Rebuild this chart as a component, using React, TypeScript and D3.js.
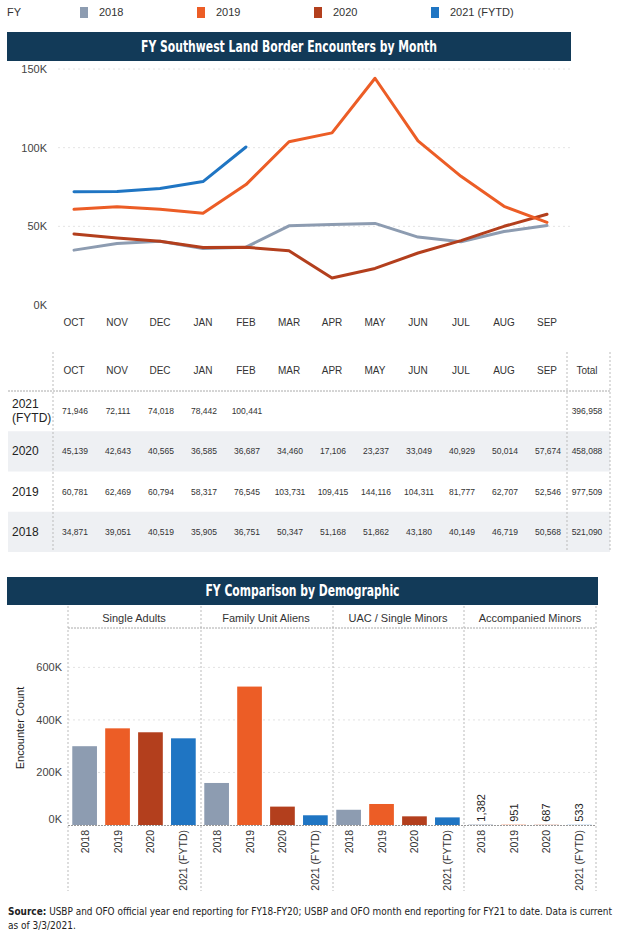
import React, { useEffect, useRef } from 'react';
import * as d3 from 'd3';

const months = ['OCT', 'NOV', 'DEC', 'JAN', 'FEB', 'MAR', 'APR', 'MAY', 'JUN', 'JUL', 'AUG', 'SEP'];
const fiscalYears = ['2018', '2019', '2020', '2021 (FYTD)'];
const legendLabels = ['2018', '2019', '2020', '2021 (FYTD)'];

const enc2018 = [34871, 39051, 40519, 35905, 36751, 50347, 51168, 51862, 43180, 40149, 46719, 50568];
const enc2019 = [60781, 62469, 60794, 58317, 76545, 103731, 109415, 144116, 104311, 81777, 62707, 52546];
const enc2020 = [45139, 42643, 40565, 36585, 36687, 34460, 17106, 23237, 33049, 40929, 50014, 57674];
const enc2021 = [71946, 72111, 74018, 78442, 100441];
const lineTicks = [0, 50000, 100000, 150000];

const demographics = ['Single Adults', 'Family Unit Aliens', 'UAC / Single Minors', 'Accompanied Minors'];
const singleAdults = [300000, 368000, 353000, 330000];
const familyUnits = [160000, 527000, 70000, 37000];
const uacMinors = [58000, 80000, 33000, 29000];
const accompaniedMinors = [1382, 951, 687, 533];
const barTicks = [0, 200000, 400000, 600000];

const colors = ['#8d9cb1', '#ec5d26', '#b33f1d', '#1f75c3'];
const navy = '#123a58';
const FONT = "'Liberation Sans', Arial, sans-serif";
const NARROW = "'Liberation Sans Narrow', 'DejaVu Sans Condensed', 'Liberation Sans', sans-serif";

const App: React.FC = () => {
  const svgRef = useRef<SVGSVGElement>(null);

  useEffect(() => {
    document.body.style.margin = '0';
    if (!svgRef.current) return;
    const svg = d3.select(svgRef.current);
    svg.selectAll('*').remove();
    svg.attr('font-family', FONT);

    // Legend
    svg.append('text').attr('x', 7).attr('y', 16).attr('font-size', 11).attr('fill', '#333').text('FY');
    const legendX = d3.scalePoint<string>().domain(legendLabels).range([80, 431]);
    const lg = svg.selectAll('.legend').data(legendLabels).enter().append('g')
      .attr('transform', d => `translate(${legendX(d)},0)`);
    lg.append('rect').attr('y', 7).attr('width', 8).attr('height', 11).attr('fill', (d, i) => colors[i]);
    lg.append('text').attr('x', 19).attr('y', 16).attr('font-size', 11).attr('fill', '#333').text(d => d);

    // Title bars
    const titleBar = (x0: number, x1: number, y0: number, h: number, label: string, w: number) => {
      svg.append('rect').attr('x', x0).attr('y', y0).attr('width', x1 - x0).attr('height', h).attr('fill', navy);
      svg.append('text').attr('x', (x0 + x1) / 2).attr('y', y0 + h / 2 + 5)
        .attr('text-anchor', 'middle').attr('fill', '#fff').attr('font-size', 15)
        .attr('font-weight', 'bold').attr('font-family', NARROW)
        .attr('textLength', w).attr('lengthAdjust', 'spacingAndGlyphs').text(label);
    };
    titleBar(7, 571, 32, 29, 'FY Southwest Land Border Encounters by Month', 296);

    // Line chart
    const x = d3.scalePoint<string>().domain(months).range([74, 547]);
    const y = d3.scaleLinear().domain([0, 150000]).range([305, 69]);

    svg.append('g').selectAll('line').data(lineTicks.slice(1)).enter().append('line')
      .attr('x1', 58).attr('x2', 570).attr('y1', d => y(d)).attr('y2', d => y(d))
      .attr('stroke', '#e4e4e4').attr('stroke-dasharray', '2,3');

    svg.append('g').selectAll('text').data(lineTicks).enter().append('text')
      .attr('x', 47).attr('y', d => y(d) + 4).attr('text-anchor', 'end')
      .attr('font-size', 11).attr('fill', '#444').text(d => `${d / 1000}K`);

    svg.append('g').selectAll('text').data(months).enter().append('text')
      .attr('x', d => x(d)!).attr('y', 326).attr('text-anchor', 'middle')
      .attr('font-size', 10).attr('fill', '#333').text(d => d);

    const line = d3.line<number>().x((d, i) => x(months[i])!).y(d => y(d));
    const series = [enc2018, enc2020, enc2019, enc2021];
    const seriesColor = [colors[0], colors[2], colors[1], colors[3]];
    svg.append('g').selectAll('path').data(series).enter().append('path')
      .attr('d', d => line(d))
      .attr('fill', 'none').attr('stroke', (d, i) => seriesColor[i])
      .attr('stroke-width', 3).attr('stroke-linejoin', 'round').attr('stroke-linecap', 'round');

    // Table
    const rowNames = ['2021', '2020', '2019', '2018'];
    const rowData = [enc2021, enc2020, enc2019, enc2018];
    const rowY = d3.scaleBand<string>().domain(rowNames).range([391, 552]);
    const fmt = d3.format(',');

    const table = svg.append('g');
    table.selectAll('rect').data(rowNames).enter().append('rect')
      .filter((d, i) => i % 2 === 1)
      .attr('x', 8).attr('y', d => rowY(d)!).attr('width', 602).attr('height', rowY.bandwidth())
      .attr('fill', '#eef0f3');

    table.append('line').attr('x1', 8).attr('x2', 610).attr('y1', 391).attr('y2', 391)
      .attr('stroke', '#aaa').attr('stroke-dasharray', '2,1');
    [53, 567, 610].forEach(lx => {
      table.append('line').attr('x1', lx).attr('x2', lx).attr('y1', 352).attr('y2', 552)
        .attr('stroke', '#bbb').attr('stroke-dasharray', '2,2');
    });

    table.selectAll('.hdr').data(months).enter().append('text')
      .attr('x', d => x(d)!).attr('y', 374).attr('text-anchor', 'middle')
      .attr('font-size', 10).attr('fill', '#333').text(d => d);
    table.append('text').attr('x', 587).attr('y', 374).attr('text-anchor', 'middle')
      .attr('font-size', 10).attr('fill', '#333').text('Total');

    rowNames.forEach((name, r) => {
      const cy = rowY(name)! + rowY.bandwidth() / 2;
      if (name === '2021') {
        table.append('text').attr('x', 12).attr('y', cy - 3).attr('font-size', 12).attr('fill', '#222').text('2021');
        table.append('text').attr('x', 12).attr('y', cy + 11).attr('font-size', 12).attr('fill', '#222').text('(FYTD)');
      } else {
        table.append('text').attr('x', 12).attr('y', cy + 4).attr('font-size', 12).attr('fill', '#222').text(name);
      }
      table.append('g').selectAll('text').data(rowData[r]).enter().append('text')
        .attr('x', (d, i) => x(months[i])! + 1).attr('y', cy + 3).attr('text-anchor', 'middle')
        .attr('font-size', 8.5).attr('fill', '#333').text(d => fmt(d));
      table.append('text').attr('x', 587).attr('y', cy + 3).attr('text-anchor', 'middle')
        .attr('font-size', 8.5).attr('fill', '#333').text(fmt(d3.sum(rowData[r])));
    });

    // Bar chart
    titleBar(7, 598, 577, 28, 'FY Comparison by Demographic', 194);

    const panel = d3.scaleBand<string>().domain(demographics).range([68, 596]);
    const inner = d3.scaleBand<string>().domain(fiscalYears).range([0, panel.bandwidth()])
      .paddingInner(0.25).paddingOuter(0.13);
    const yb = d3.scaleLinear().domain([0, 750000]).range([825, 628]);
    const barValues = [singleAdults, familyUnits, uacMinors, accompaniedMinors];

    const bars = svg.append('g');
    bars.selectAll('.grid').data(barTicks.slice(1)).enter().append('line')
      .attr('x1', 68).attr('x2', 596).attr('y1', d => yb(d)).attr('y2', d => yb(d))
      .attr('stroke', '#e2e2e2').attr('stroke-dasharray', '2,3');
    bars.selectAll('.tick').data(barTicks).enter().append('text')
      .attr('x', 62).attr('y', d => yb(d) + (d === 0 ? -2 : 4)).attr('text-anchor', 'end')
      .attr('font-size', 11).attr('fill', '#444').text(d => `${d / 1000}K`);
    bars.append('text').attr('transform', 'translate(24,728) rotate(-90)')
      .attr('text-anchor', 'middle').attr('font-size', 11).attr('fill', '#222').text('Encounter Count');

    [68, 201, 333, 464, 596].forEach(lx => {
      bars.append('line').attr('x1', lx).attr('x2', lx).attr('y1', 606).attr('y2', 891)
        .attr('stroke', '#bbb').attr('stroke-dasharray', '2,2');
    });
    bars.append('line').attr('x1', 68).attr('x2', 596).attr('y1', 628).attr('y2', 628)
      .attr('stroke', '#aaa').attr('stroke-dasharray', '2,1');
    bars.append('line').attr('x1', 68).attr('x2', 596).attr('y1', 825.5).attr('y2', 825.5)
      .attr('stroke', '#999').attr('stroke-dasharray', '2,1');

    demographics.forEach((demo, p) => {
      const px = panel(demo)!;
      const g = bars.append('g').attr('transform', `translate(${px},0)`);
      g.append('text').attr('x', panel.bandwidth() / 2).attr('y', 622).attr('text-anchor', 'middle')
        .attr('font-size', 11).attr('fill', '#333').text(demo);
      g.selectAll('rect').data(barValues[p]).enter().append('rect')
        .attr('x', (d, i) => inner(fiscalYears[i])!).attr('y', d => yb(d))
        .attr('width', inner.bandwidth()).attr('height', d => 825 - yb(d))
        .attr('fill', (d, i) => colors[i]);
      g.selectAll('.xl').data(fiscalYears).enter().append('text')
        .attr('transform', d => `translate(${inner(d)! + inner.bandwidth() / 2 + 4},830) rotate(-90)`)
        .attr('text-anchor', 'end').attr('font-size', 10.5).attr('fill', '#333').text(d => d);
      if (demo === 'Accompanied Minors') {
        g.selectAll('.vl').data(barValues[p]).enter().append('text')
          .attr('transform', (d, i) => `translate(${inner(fiscalYears[i])! + inner.bandwidth() / 2 + 4},${yb(d) - 3}) rotate(-90)`)
          .attr('text-anchor', 'start').attr('font-size', 11).attr('fill', '#222').text(d => fmt(d));
      }
    });

    // Footer
    const foot = svg.append('text').attr('x', 8).attr('y', 915).attr('font-size', 10)
      .attr('font-family', NARROW).attr('fill', '#222')
      .attr('textLength', 604).attr('lengthAdjust', 'spacingAndGlyphs');
    foot.append('tspan').attr('font-weight', 'bold').text('Source:');
    foot.append('tspan').text(' USBP and OFO official year end reporting for FY18-FY20; USBP and OFO month end reporting for FY21 to date. Data is current');
    svg.append('text').attr('x', 8).attr('y', 929).attr('font-size', 10)
      .attr('font-family', NARROW).attr('fill', '#222').text('as of 3/3/2021.');
  }, []);

  return (
    <div style={{ width: 624, height: 937 }}>
      <svg ref={svgRef} width={624} height={937} style={{ display: 'block' }}></svg>
    </div>
  );
};

export default App;
